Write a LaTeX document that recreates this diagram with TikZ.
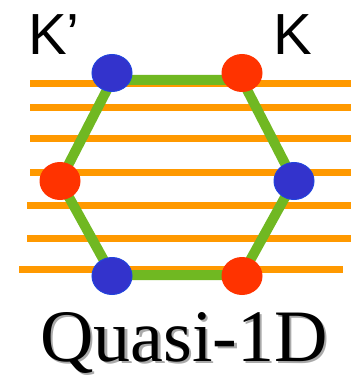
\documentclass[tikz,border=0pt]{standalone}
\usepackage{fontspec}
\setmainfont{Liberation Serif}
\newfontfamily\ksans{Liberation Sans}
\definecolor{orangeL}{HTML}{FF9900}
\definecolor{greenL}{HTML}{70B822}
\definecolor{blueD}{HTML}{3333CC}
\definecolor{blueB}{HTML}{2244DD}
\definecolor{redD}{HTML}{FF3300}
\definecolor{shadowG}{HTML}{AAAAAA}
\begin{document}
\begin{tikzpicture}[x=1pt,y=-1pt,
  stripe/.style={draw=orangeL,line width=7pt},
  edge/.style={draw=greenL,line width=10pt,line join=round},
  bdot/.style={ellipse,fill=blueD,draw=blueB,line width=1pt,minimum width=40pt,minimum height=37pt,inner sep=0pt},
  rdot/.style={ellipse,fill=redD,minimum width=41pt,minimum height=38pt,inner sep=0pt},
  klabel/.style={anchor=base west,inner sep=0pt,font=\ksans\fontsize{58}{58}\selectfont}]
\usetikzlibrary{shapes.geometric}
\useasboundingbox (0,0) rectangle (351,377);
% stripes
\foreach \yy/\xa/\xb [count=\i] in {84/30/351,108/30/351,138/30/351,172/30/351,205/27/351,238/27/351,269/19/343}{
  \coordinate (s\i a) at (\xa,\yy);
  \coordinate (s\i b) at (\xb,\yy);
  \draw[stripe] (s\i a) -- (s\i b);
}
% vertices
\coordinate (vtl) at (112,80);
\coordinate (vtr) at (242,80);
\coordinate (vr) at (294,181);
\coordinate (vbr) at (242,275);
\coordinate (vbl) at (112,275);
\coordinate (vl) at (60,181);
\draw[edge] (vtl) -- (vtr) -- (vr) -- (vbr) -- (vbl) -- (vl) -- cycle;
% dots
\node[bdot] (tl) at (112,73) {};
\node[rdot] (tr) at (242,73) {};
\node[rdot] (l) at (60,181) {};
\node[bdot] (r) at (294,181) {};
\node[bdot] (bl) at (112,276) {};
\node[rdot] (br) at (242,276) {};
% labels
\node[klabel] (kp) at (28,55) {K’};
\node[klabel] (k) at (273,55) {K};
\node[anchor=base,inner sep=0pt,text=shadowG,font=\fontsize{74}{74}\selectfont] (qs) at (186.5,363) {Quasi-1D};
\node[anchor=base,inner sep=0pt,font=\fontsize{74}{74}\selectfont] (q) at (184,361) {Quasi-1D};
\end{tikzpicture}
\end{document}
